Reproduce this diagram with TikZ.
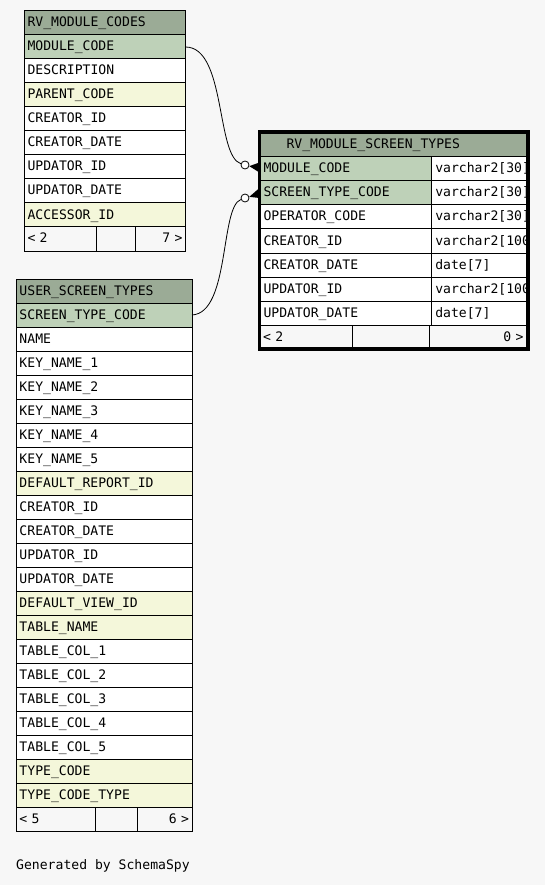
\documentclass[tikz,border=0pt]{standalone}
\usepackage{fontspec}
\setmonofont{DejaVu Sans Mono}
\usepackage{tikz}
\usetikzlibrary{positioning}
\definecolor{pagebg}{HTML}{F7F7F7}
\definecolor{headc}{HTML}{9BAB96}
\definecolor{keyc}{HTML}{BED1B8}
\definecolor{idxc}{HTML}{F4F7DA}
\newcommand{\cellfont}{\ttfamily\fontsize{13.1}{15}\selectfont}

\begin{document}
\begin{tikzpicture}[x=1pt, y=-1pt,
  cell/.style={draw, line width=1pt, fill=white, minimum height=24pt, inner xsep=3pt, inner ysep=0pt,
    text height=9.5pt, text depth=1.5pt, align=left, outer sep=0pt, font=\cellfont},
  head/.style={cell, fill=headc},
  key/.style={cell, fill=keyc},
  idx/.style={cell, fill=idxc},
  foot/.style={cell, fill=pagebg},
  wa/.style={text width=155pt},
  wb/.style={text width=169.5pt},
  wc/.style={text width=164.3pt, inner xsep=4pt},
  wct/.style={text width=91.2pt, inner xsep=3.5pt},
  odot/.style={circle, draw, fill=white, line width=0.8pt, minimum size=8pt, inner sep=0pt},
  rel/.style={line width=0.8pt}]
\fill[pagebg] (0,0) rectangle (545,885);
\useasboundingbox (0,0) rectangle (545,885);

% RV_MODULE_CODES
\node[head, wa, anchor=north west] (rmc) at (24.5,11) {RV\_MODULE\_CODES};
\node[key, wa, below=0pt of rmc] (rmc-mod) {MODULE\_CODE};
\node[cell, wa, below=0pt of rmc-mod] (rmc-desc) {DESCRIPTION};
\node[idx, wa, below=0pt of rmc-desc] (rmc-par) {PARENT\_CODE};
\node[cell, wa, below=0pt of rmc-par] (rmc-cid) {CREATOR\_ID};
\node[cell, wa, below=0pt of rmc-cid] (rmc-cdt) {CREATOR\_DATE};
\node[cell, wa, below=0pt of rmc-cdt] (rmc-uid) {UPDATOR\_ID};
\node[cell, wa, below=0pt of rmc-uid] (rmc-udt) {UPDATOR\_DATE};
\node[idx, wa, below=0pt of rmc-udt] (rmc-acc) {ACCESSOR\_ID};
\node[foot, text width=66.2pt, below=0pt of rmc-acc.south west, anchor=north west] (rmc-ft1) {< 2};
\node[foot, text width=32.6pt, right=0pt of rmc-ft1] (rmc-ft2) {};
\node[foot, text width=44.2pt, align=right, right=0pt of rmc-ft2] (rmc-ft3) {7 >};

% USER_SCREEN_TYPES
\node[head, wb, anchor=north west] (ust) at (16.5,279) {USER\_SCREEN\_TYPES};
\node[key, wb, below=0pt of ust] (ust-scr) {SCREEN\_TYPE\_CODE};
\node[cell, wb, below=0pt of ust-scr] (ust-name) {NAME};
\node[cell, wb, below=0pt of ust-name] (ust-k1) {KEY\_NAME\_1};
\node[cell, wb, below=0pt of ust-k1] (ust-k2) {KEY\_NAME\_2};
\node[cell, wb, below=0pt of ust-k2] (ust-k3) {KEY\_NAME\_3};
\node[cell, wb, below=0pt of ust-k3] (ust-k4) {KEY\_NAME\_4};
\node[cell, wb, below=0pt of ust-k4] (ust-k5) {KEY\_NAME\_5};
\node[idx, wb, below=0pt of ust-k5] (ust-rep) {DEFAULT\_REPORT\_ID};
\node[cell, wb, below=0pt of ust-rep] (ust-cid) {CREATOR\_ID};
\node[cell, wb, below=0pt of ust-cid] (ust-cdt) {CREATOR\_DATE};
\node[cell, wb, below=0pt of ust-cdt] (ust-uid) {UPDATOR\_ID};
\node[cell, wb, below=0pt of ust-uid] (ust-udt) {UPDATOR\_DATE};
\node[idx, wb, below=0pt of ust-udt] (ust-view) {DEFAULT\_VIEW\_ID};
\node[idx, wb, below=0pt of ust-view] (ust-tab) {TABLE\_NAME};
\node[cell, wb, below=0pt of ust-tab] (ust-c1) {TABLE\_COL\_1};
\node[cell, wb, below=0pt of ust-c1] (ust-c2) {TABLE\_COL\_2};
\node[cell, wb, below=0pt of ust-c2] (ust-c3) {TABLE\_COL\_3};
\node[cell, wb, below=0pt of ust-c3] (ust-c4) {TABLE\_COL\_4};
\node[cell, wb, below=0pt of ust-c4] (ust-c5) {TABLE\_COL\_5};
\node[idx, wb, below=0pt of ust-c5] (ust-type) {TYPE\_CODE};
\node[idx, wb, below=0pt of ust-type] (ust-tt) {TYPE\_CODE\_TYPE};
\node[foot, text width=73.2pt, below=0pt of ust-tt.south west, anchor=north west] (ust-ft1) {< 5};
\node[foot, text width=35.6pt, right=0pt of ust-ft1] (ust-ft2) {};
\node[foot, text width=48.7pt, align=right, right=0pt of ust-ft2] (ust-ft3) {6 >};

% RV_MODULE_SCREEN_TYPES
\node[head, text width=214.5pt, inner xsep=27pt, minimum height=25pt, anchor=north west] (rmst) at (259.5,132) {RV\_MODULE\_SCREEN\_TYPES};
\node[key, wc, below=0pt of rmst.south west, anchor=north west] (rmst-mod) {MODULE\_CODE};
\node[key, wc, below=0pt of rmst-mod] (rmst-scr) {SCREEN\_TYPE\_CODE};
\node[cell, wc, below=0pt of rmst-scr] (rmst-op) {OPERATOR\_CODE};
\node[cell, wc, below=0pt of rmst-op] (rmst-cid) {CREATOR\_ID};
\node[cell, wc, below=0pt of rmst-cid] (rmst-cdt) {CREATOR\_DATE};
\node[cell, wc, below=0pt of rmst-cdt] (rmst-uid) {UPDATOR\_ID};
\node[cell, wc, below=0pt of rmst-uid] (rmst-udt) {UPDATOR\_DATE};
\begin{scope}
  \clip (0,0) rectangle (526.5,885);
  \node[cell, wct, right=0pt of rmst-mod] (rmst-mod-t) {varchar2[30]};
  \node[cell, wct, right=0pt of rmst-scr] (rmst-scr-t) {varchar2[30]};
  \node[cell, wct, right=0pt of rmst-op] (rmst-op-t) {varchar2[30]};
  \node[cell, wct, right=0pt of rmst-cid] (rmst-cid-t) {varchar2[100]};
  \node[cell, wct, right=0pt of rmst-cdt] (rmst-cdt-t) {date[7]};
  \node[cell, wct, right=0pt of rmst-uid] (rmst-uid-t) {varchar2[100]};
  \node[cell, wct, right=0pt of rmst-udt] (rmst-udt-t) {date[7]};
\end{scope}
\node[foot, text width=85.5pt, inner xsep=3.5pt, below=0pt of rmst-udt.south west, anchor=north west] (rmst-ft1) {< 2};
\node[foot, text width=71.8pt, right=0pt of rmst-ft1] (rmst-ft2) {};
\node[foot, text width=89.2pt, inner xsep=4.5pt, align=right, right=0pt of rmst-ft2] (rmst-ft3) {0 >};
\draw[line width=3.8pt] (rmst.north west) rectangle (rmst-ft3.south east);

% relations
\node[odot] (o1) at (245,165) {};
\node[odot] (o2) at (245,198) {};
\draw[rel] (rmc-mod.east) .. controls (226,47) and (216,156) .. (o1);
\draw[rel] (ust-scr.east) .. controls (230,313) and (220,207) .. (o2);
\fill (o1.-15) -- ([yshift=6.5pt]rmst-mod.west) -- ([yshift=-3.5pt]rmst-mod.west) -- cycle;
\fill (o2.15) -- ([yshift=5pt]rmst-scr.west) -- ([yshift=-5pt]rmst-scr.west) -- cycle;

\node[font=\cellfont, anchor=west, inner sep=0pt] (gen) at (16,866) {Generated by SchemaSpy};
\end{tikzpicture}
\end{document}
